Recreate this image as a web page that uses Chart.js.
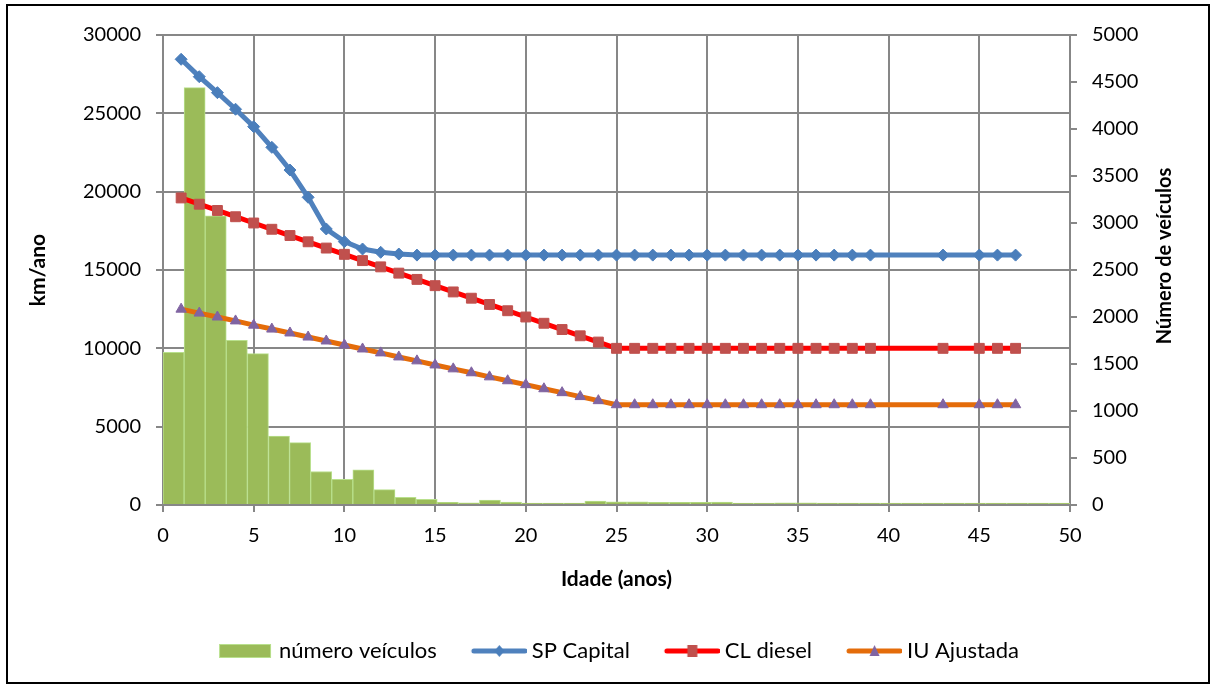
<!DOCTYPE html>
<html>
<head>
<meta charset="utf-8">
<script src="https://cdn.jsdelivr.net/npm/chart.js@4.4.1/dist/chart.umd.min.js"></script>
<style>
  html, body { margin: 0; padding: 0; background: #fff; }
  #frame {
    position: absolute; left: 6px; top: 4px;
    width: 1204px; height: 680px;
    box-sizing: border-box; border: 2px solid #000;
    background: #fff;
  }
  #frame canvas { display: block; }
</style>
</head>
<body>
<div id="frame"><canvas id="kmChart"></canvas></div>
<script>
// Bars: number of vehicles per age class (hidden category axis, right scale)
const categories = ['1','2','3','4','5','6','7','8','9','10','11','12','13','14','15','16','17','18','19','20','21','22',
  '23','24','25','26','27','28','29','30','31','32','33','34','35','36','37','38','39','40','41','42','43'];
const numeroVeiculos = [1625, 4440, 3075, 1752, 1610, 734, 663, 356, 272, 374, 163, 82, 60, 28, 22, 52, 31, 21, 21, 21, 43, 35,
  35, 28, 28, 28, 32, 20, 20, 22, 22, 15, 10, 10, 8, 8, 8, 7, 6, 6, 5, 5, 5];

// Lines: km/ano by age (left scale)
const idades = [1, 2, 3, 4, 5, 6, 7, 8, 9, 10, 11, 12, 13, 14, 15, 16, 17, 18, 19, 20, 21, 22, 23, 24, 25,
  26, 27, 28, 29, 30, 31, 32, 33, 34, 35, 36, 37, 38, 39, 43, 45, 46, 47];
const spCapital = [28450, 27340, 26320, 25260, 24150, 22830, 21380, 19640, 17620, 16810, 16340, 16130, 16020, 15950, 15950,
  15950, 15950, 15950, 15950, 15950, 15950, 15950, 15950, 15950, 15950, 15950, 15950, 15950, 15950, 15950, 15950, 15950,
  15950, 15950, 15950, 15950, 15950, 15950, 15950, 15950, 15950, 15950, 15950];
const clDiesel = [19600, 19200, 18800, 18400, 18000, 17600, 17200, 16800, 16400, 16000, 15600, 15200, 14800, 14400, 14000,
  13600, 13200, 12800, 12400, 12000, 11600, 11200, 10800, 10400, 10000, 10000, 10000, 10000, 10000, 10000, 10000, 10000,
  10000, 10000, 10000, 10000, 10000, 10000, 10000, 10000, 10000, 10000, 10000];
const iuAjustada = [12500, 12250, 12000, 11750, 11480, 11230, 10980, 10720, 10470, 10210, 9960, 9710, 9450, 9200, 8940,
  8690, 8440, 8180, 7930, 7680, 7420, 7170, 6920, 6660, 6400, 6400, 6400, 6400, 6400, 6400, 6400, 6400, 6400, 6400, 6400,
  6400, 6400, 6400, 6400, 6400, 6400, 6400, 6400];

const xTicks = [0, 50, 5];        // min, max, step
const yLeftTicks = [0, 30000, 5000];
const yRightTicks = [0, 5000, 500];

const GRID = '#878787';
const FONT = 'Lato';

function pts(ys) {
  return idades.map((x, i) => ({ x: x, y: ys[i] }));
}

// Legend icons: swatch shifted right inside the image so the text sits close to it
const ICON_W = 67, ICON_H = 16, SHIFT = 12;
function makeIcon(draw) {
  const c = document.createElement('canvas');
  c.width = ICON_W; c.height = ICON_H;
  draw(c.getContext('2d'));
  return c;
}
function lineIcon(lineColor, markerColor, shape) {
  return makeIcon(ctx => {
    ctx.strokeStyle = lineColor;
    ctx.lineWidth = 5;
    ctx.lineCap = 'round';
    ctx.beginPath();
    ctx.moveTo(SHIFT + 2, 8);
    ctx.lineTo(ICON_W - 2, 8);
    ctx.stroke();
    const cx = SHIFT + (ICON_W - SHIFT) / 2, cy = 8;
    ctx.fillStyle = markerColor;
    ctx.beginPath();
    if (shape === 'diamond') {
      ctx.moveTo(cx, cy - 6); ctx.lineTo(cx + 5, cy); ctx.lineTo(cx, cy + 6); ctx.lineTo(cx - 5, cy);
    } else if (shape === 'square') {
      ctx.rect(cx - 5, cy - 6, 10, 12);
    } else {
      ctx.moveTo(cx, cy - 6); ctx.lineTo(cx + 5, cy + 5); ctx.lineTo(cx - 5, cy + 5);
    }
    ctx.closePath();
    ctx.fill();
  });
}
const legendIcons = [
  makeIcon(ctx => {
    ctx.fillStyle = '#9BBB59';
    ctx.fillRect(SHIFT, 1, 52, 14);
    ctx.strokeStyle = '#b9e08d';
    ctx.lineWidth = 1;
    ctx.strokeRect(SHIFT + 0.5, 1.5, 51, 13);
  }),
  lineIcon('#4F81BD', '#4A7EBB', 'diamond'),
  lineIcon('#FF0000', '#C0504D', 'square'),
  lineIcon('#E46C0A', '#8064A2', 'triangle')
];

// Right axis title reads bottom-to-top, so draw it by hand
const rightTitle = {
  id: 'rightTitle',
  afterDraw(chart) {
    const s = chart.scales.y2;
    const ctx = chart.ctx;
    ctx.save();
    ctx.translate(s.right - 43, (chart.chartArea.top + chart.chartArea.bottom) / 2 - 14);
    ctx.rotate(-Math.PI / 2);
    ctx.font = 'bold 20px ' + FONT;
    ctx.fillStyle = '#000';
    ctx.textAlign = 'center';
    ctx.textBaseline = 'middle';
    ctx.fillText('Número de veículos', 0, 0);
    ctx.restore();
  }
};

Chart.defaults.font.family = FONT;
Chart.defaults.font.size = 20;
Chart.defaults.color = '#000';

new Chart(document.getElementById('kmChart'), {
  data: {
    labels: categories,
    datasets: [
      {
        type: 'bar',
        label: 'número veículos',
        data: numeroVeiculos,
        xAxisID: 'xb',
        yAxisID: 'y2',
        backgroundColor: '#9BBB59',
        borderColor: '#b9e08d',
        borderWidth: 1,
        grouped: false,
        barPercentage: 1,
        categoryPercentage: 1,
        minBarLength: 2,
        order: 2
      },
      {
        type: 'line',
        label: 'SP Capital',
        data: pts(spCapital),
        xAxisID: 'x',
        yAxisID: 'y',
        borderColor: '#4F81BD',
        borderWidth: 5,
        pointStyle: 'rectRot',
        pointRadius: 6,
        pointBackgroundColor: '#4A7EBB',
        pointBorderColor: '#4A7EBB',
        pointBorderWidth: 1,
        order: 1
      },
      {
        type: 'line',
        label: 'CL diesel',
        data: pts(clDiesel),
        xAxisID: 'x',
        yAxisID: 'y',
        borderColor: '#FF0000',
        borderWidth: 5,
        pointStyle: 'rect',
        pointRadius: 7,
        pointBackgroundColor: '#C0504D',
        pointBorderColor: '#C0504D',
        pointBorderWidth: 1,
        order: 1
      },
      {
        type: 'line',
        label: 'IU Ajustada',
        data: pts(iuAjustada),
        xAxisID: 'x',
        yAxisID: 'y',
        borderColor: '#E46C0A',
        borderWidth: 5,
        pointStyle: 'triangle',
        pointRadius: 6,
        pointBackgroundColor: '#8064A2',
        pointBorderColor: '#8064A2',
        pointBorderWidth: 1,
        order: 1
      }
    ]
  },
  options: {
    responsive: true,
    maintainAspectRatio: false,
    animation: false,
    // left padding nudges the legend right; the y axis width below compensates
    layout: { padding: { top: 29, left: 16, right: 0, bottom: 10 } },
    plugins: {
      tooltip: { enabled: false },
      legend: {
        position: 'bottom',
        labels: {
          usePointStyle: true,
          pointStyleWidth: 55,
          padding: 29,
          font: { size: 22 },
          generateLabels: chart => chart.data.datasets.map((ds, i) => ({
            text: ds.label,
            pointStyle: legendIcons[i],
            datasetIndex: i,
            hidden: false,
            lineWidth: 0,
            strokeStyle: 'rgba(0,0,0,0)',
            fillStyle: 'rgba(0,0,0,0)'
          }))
        }
      }
    },
    scales: {
      x: {
        type: 'linear',
        position: 'bottom',
        min: xTicks[0], max: xTicks[1],
        ticks: { stepSize: xTicks[2], padding: 12, font: { size: 20 } },
        grid: { color: GRID, lineWidth: 2, tickLength: 7 },
        border: { color: GRID, width: 2 },
        title: { display: true, text: 'Idade (anos)', font: { size: 21, weight: 'bold' }, padding: { top: 0, bottom: 19 } },
        afterFit: s => { s.height = 106; }
      },
      xb: {
        type: 'category',
        labels: categories,
        display: false,
        offset: true
      },
      y: {
        type: 'linear',
        position: 'left',
        min: yLeftTicks[0], max: yLeftTicks[1],
        ticks: { stepSize: yLeftTicks[2], padding: 15, callback: v => String(v) },
        grid: { color: GRID, lineWidth: 2, tickLength: 7 },
        border: { color: GRID, width: 2 },
        title: { display: true, text: 'km/ano', font: { size: 21, weight: 'bold' }, padding: { top: 2, bottom: 0 } },
        afterFit: s => { s.width = 139; }
      },
      y2: {
        type: 'linear',
        position: 'right',
        min: yRightTicks[0], max: yRightTicks[1],
        ticks: { stepSize: yRightTicks[2], padding: 15, callback: v => String(v) },
        grid: { drawOnChartArea: false, color: GRID, lineWidth: 2, tickLength: 7 },
        border: { color: GRID, width: 2 },
        afterFit: s => { s.width = 138; }
      }
    }
  },
  plugins: [rightTitle]
});
</script>
</body>
</html>
